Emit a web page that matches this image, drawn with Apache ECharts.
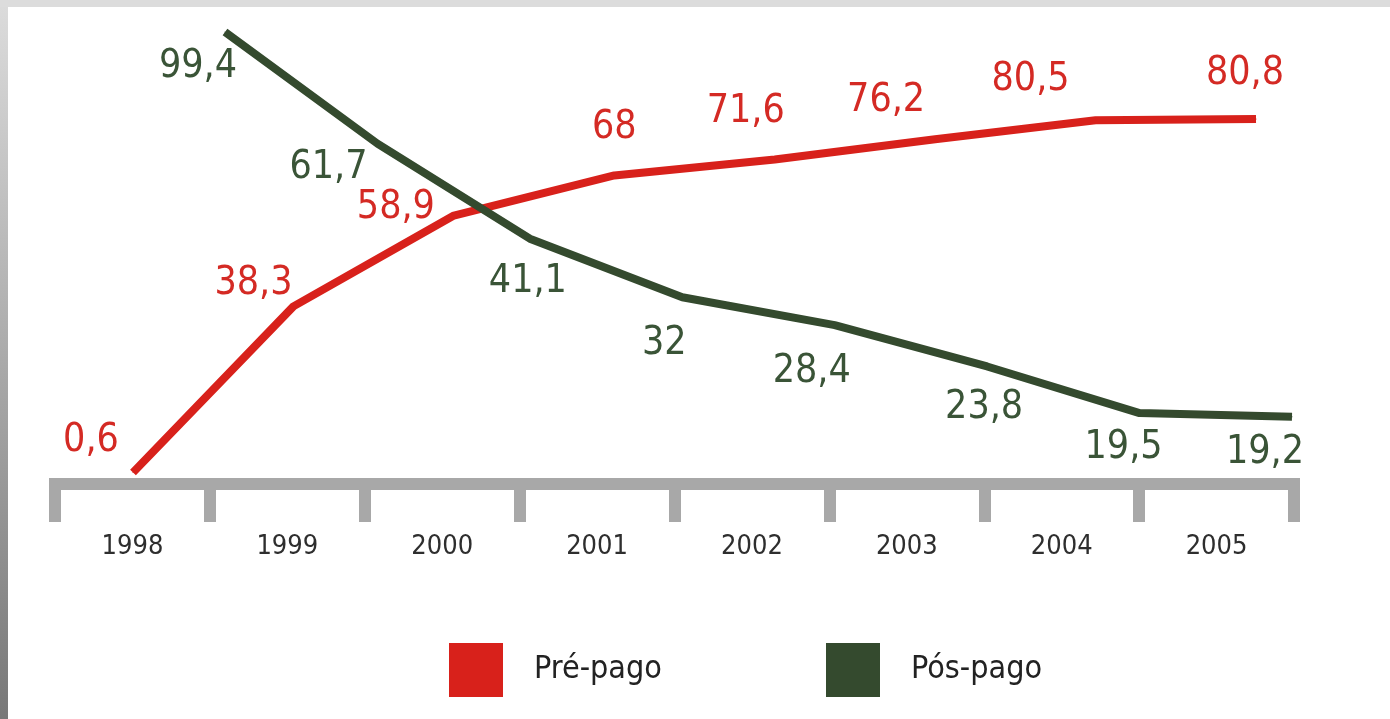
<!DOCTYPE html>
<html>
<head>
<meta charset="utf-8">
<script src="https://cdn.jsdelivr.net/npm/echarts@6/dist/echarts.min.js"></script>
<style>
  html, body { margin: 0; padding: 0; }
  #frame {
    position: absolute; left: 0; top: 0; width: 1390px; height: 719px;
    background:
      linear-gradient(#dcdcdc, #dcdcdc) top left / 100% 7px no-repeat,
      linear-gradient(#dcdcdc, #787878) top left / 8px 100% no-repeat,
      #ffffff;
  }
  #main { position: absolute; left: 0; top: 0; width: 1390px; height: 719px; }
</style>
</head>
<body>
<div id="frame"></div>
<div id="main"></div>
<script>
  // dados
  const anos = ['1998', '1999', '2000', '2001', '2002', '2003', '2004', '2005']
  const prePago = [0.6, 38.3, 58.9, 68, 71.6, 76.2, 80.5, 80.8]
  const posPago = [99.4, 61.7, 41.1, 32, 28.4, 23.8, 19.5, 19.2]

  // deslocamento dos rótulos em relação ao ponto (estilo)
  const offPre = [[-42, -32], [-40, -22], [-58, -8], [0, -48], [-29, -48], [-49, -38], [-65, -40], [-11, -45]]
  const offPos = [[-27, 35], [-49, 24], [-2, 43], [-18, 47], [-23, 47], [-3, 41], [-16, 35], [-27, 36]]

  const VERMELHO = '#d8211b'
  const VERDE = '#344a2e'
  const FONTE = "'DejaVu Sans Condensed', 'Liberation Sans Narrow', sans-serif"

  const fmt = p => String(p.value).replace('.', ',')

  function serie (nome, valores, offsets, cor, corTexto, idx) {
    return {
      name: nome,
      type: 'line',
      xAxisIndex: idx,
      yAxisIndex: idx,
      clip: false,
      symbol: 'circle',
      symbolSize: 1,
      showSymbol: true,
      itemStyle: { color: cor, borderWidth: 0 },
      lineStyle: { color: cor, width: 8 },
      label: {
        show: true,
        position: 'inside',
        align: 'center',
        verticalAlign: 'middle',
        fontFamily: FONTE,
        fontSize: 39,
        color: corTexto,
        formatter: fmt
      },
      data: valores.map((v, i) => ({ value: v, label: { offset: offsets[i] } })),
      z: idx === 1 ? 3 : 4
    }
  }

  function legenda (nome, left) {
    return {
      data: [nome], left: left, top: 638,
      icon: 'rect', itemWidth: 54, itemHeight: 54, selectedMode: false,
      itemStyle: { borderWidth: 0 },
      textStyle: { fontFamily: FONTE, fontSize: 32, color: '#222', padding: [0, 0, 0, 26] }
    }
  }

  const chart = echarts.init(document.getElementById('main'))
  chart.setOption({
    backgroundColor: 'transparent',
    animation: false,
    grid: [
      { left: 55, right: 96, top: 0, bottom: 235 },
      { left: 133, right: 134, top: 0, bottom: 235 },
      { left: 225, right: 98, top: 0, bottom: 235 }
    ],
    xAxis: [
      {
        gridIndex: 0,
        type: 'category',
        data: anos,
        boundaryGap: true,
        axisLine: { lineStyle: { color: '#a8a8a8', width: 12, cap: 'square' } },
        axisTick: { show: true, length: 38, lineStyle: { color: '#a8a8a8', width: 12 } },
        axisLabel: { margin: 49, fontFamily: FONTE, fontSize: 27, color: '#2e2e2e' }
      },
      { gridIndex: 1, type: 'category', data: anos, boundaryGap: false, show: false },
      { gridIndex: 2, type: 'category', data: anos, boundaryGap: false, show: false }
    ],
    yAxis: [
      { gridIndex: 0, type: 'value', min: 0, max: 100, show: false },
      { gridIndex: 1, type: 'value', min: -2, max: 107.8, show: false },
      { gridIndex: 2, type: 'log', min: 14.4, max: 114, show: false }
    ],
    legend: [legenda('Pré-pago', 444), legenda('Pós-pago', 821)],
    series: [
      serie('Pré-pago', prePago, offPre, VERMELHO, '#d42a24', 1),
      serie('Pós-pago', posPago, offPos, VERDE, '#3a5437', 2)
    ]
  })
</script>
</body>
</html>
